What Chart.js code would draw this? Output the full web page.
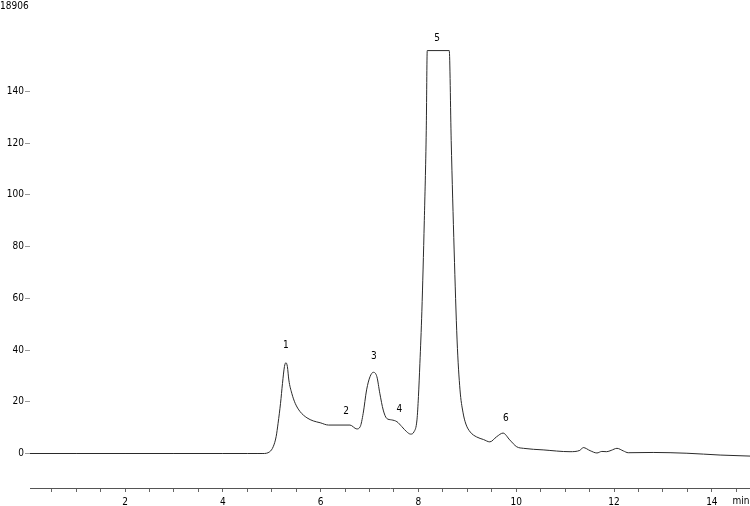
<!DOCTYPE html>
<html>
<head>
<meta charset="utf-8">
<script src="https://cdn.jsdelivr.net/npm/chart.js@4.4.1/dist/chart.umd.min.js"></script>
<style>
  html, body { margin: 0; padding: 0; background: #fff; }
  #wrap { width: 750px; height: 506px; position: relative; }
</style>
</head>
<body>
<div id="wrap"><canvas id="chrom"></canvas></div>
<script>
  // retention time (min) and detector signal
  const times = [
    0, 1, 2, 3, 4, 4.5, 4.70, 4.82, 4.96, 5.03, 5.09, 5.13, 5.18, 5.22, 5.26, 5.29,
    5.32, 5.35, 5.41, 5.48, 5.58, 5.72, 5.85, 5.99, 6.16, 6.60, 6.74, 6.81, 6.87,
    6.94, 7.01, 7.08, 7.15, 7.21, 7.28, 7.35, 7.45, 7.56, 7.66, 7.76, 7.84, 7.91,
    7.97, 8.00, 8.03, 8.07, 8.12, 8.16, 8.18, 8.63, 8.67, 8.73, 8.79, 8.85, 8.91,
    8.97, 9.06, 9.19, 9.33, 9.46, 9.60, 9.73, 9.87, 10.01, 10.15, 10.55, 11.10,
    11.30, 11.37, 11.51, 11.65, 11.75, 11.85, 11.94, 12.06, 12.19, 12.29, 12.80,
    13.49, 14.17, 14.78
  ];
  const signal = [
    0, 0, 0, 0, 0, 0, 0, 0, 0.7, 2.6, 6.5, 11.7, 19.4, 27.1, 33.6, 35.1,
    33.6, 28.4, 23.3, 19.4, 16.2, 13.8, 12.6, 11.9, 11.0, 11.0, 9.5, 10.4, 15.5,
    24.6, 29.7, 31.4, 29.7, 23.3, 16.8, 13.6, 13.0, 12.3, 10.4, 8.4, 7.5, 8.4,
    13.0, 22.0, 34.9, 55.0, 90.0, 125, 155.8, 155.8, 121, 78.7, 43.9, 24.6, 16.0,
    11.4, 8.3, 6.4, 5.4, 4.5, 6.5, 7.9, 5.2, 2.6, 2.0, 1.4, 0.7,
    1.2, 2.3, 1.1, 0.2, 0.8, 0.7, 1.2, 2.0, 1.0, 0.3, 0.4,
    0.1, -0.6, -1.0
  ];

  // peak numbering
  const peakNames = ["1", "2", "3", "4", "5", "6"];
  const peakTimes = [5.29, 6.52, 7.09, 7.61, 8.38, 9.79];
  const peakLabelLevels = [41.8, 16.2, 37.5, 17.0, 160.5, 13.5];

  const yTickValues = [0, 20, 40, 60, 80, 100, 120, 140];
  const xTickValues = [];
  for (let t = 0.5; t <= 14.5; t += 0.5) xTickValues.push(t);

  const headerText = "18906";
  const xUnit = "min";

  const FONT = '"DejaVu Sans Condensed", "DejaVu Sans", sans-serif';

  const textPlugin = {
    id: 'chromText',
    afterDraw(chart) {
      const ctx = chart.ctx;
      const xs = chart.scales.x, ys = chart.scales.y;
      ctx.save();
      ctx.fillStyle = '#000';
      ctx.font = '10px ' + FONT;
      ctx.textAlign = 'center';
      ctx.textBaseline = 'middle';
      peakNames.forEach(function (name, i) {
        ctx.fillText(name, xs.getPixelForValue(peakTimes[i]), ys.getPixelForValue(peakLabelLevels[i]));
      });
      ctx.textAlign = 'left';
      ctx.fillText(headerText, 0, 6);
      ctx.textAlign = 'center';
      ctx.fillText(xUnit, 741, 501);
      ctx.restore();
    }
  };

  new Chart(document.getElementById('chrom'), {
    type: 'line',
    data: {
      datasets: [{
        data: times.map(function (t, i) { return { x: t, y: signal[i] }; }),
        borderColor: '#2a2a2a',
        borderWidth: 1,
        pointRadius: 0,
        cubicInterpolationMode: 'monotone',
        fill: false
      }]
    },
    options: {
      responsive: true,
      maintainAspectRatio: false,
      animation: false,
      layout: { padding: { top: 12, right: 0, left: 0, bottom: 0 } },
      plugins: { legend: { display: false }, tooltip: { enabled: false } },
      scales: {
        x: {
          type: 'linear',
          min: 0.057,
          max: 14.78,
          afterBuildTicks: function (scale) {
            scale.ticks = xTickValues.map(function (v) { return { value: v }; });
          },
          afterFit: function (scale) { scale.height = 18; },
          border: { display: true, color: '#555' },
          grid: { drawOnChartArea: false, tickLength: 4, color: '#666' },
          ticks: {
            autoSkip: false,
            maxRotation: 0,
            padding: 4,
            color: '#000',
            font: { size: 10, family: FONT },
            callback: function (value) {
              return (value % 2 === 0) ? String(value) : '';
            }
          }
        },
        y: {
          min: -13.34,
          max: 170.72,
          afterBuildTicks: function (scale) {
            scale.ticks = yTickValues.map(function (v) { return { value: v }; });
          },
          afterFit: function (scale) { scale.width = 30; },
          border: { display: false },
          grid: { drawOnChartArea: false, tickLength: 5, color: '#999' },
          ticks: {
            padding: 1,
            color: '#000',
            font: { size: 10, family: FONT }
          }
        }
      }
    },
    plugins: [textPlugin]
  });
</script>
</body>
</html>
